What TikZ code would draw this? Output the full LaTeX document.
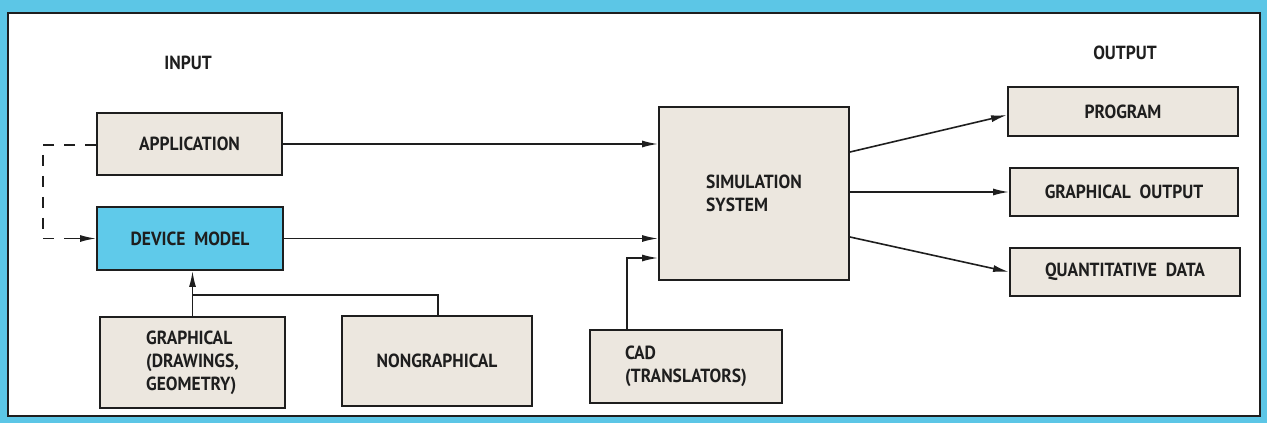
\documentclass[tikz,border=0pt]{standalone}
\usepackage{fontspec}
\setmainfont{PT Sans}[FakeStretch=0.92]
\usetikzlibrary{arrows.meta}
\definecolor{bgcyan}{HTML}{5CC6E6}
\definecolor{boxfill}{HTML}{ECE7DF}
\definecolor{devfill}{HTML}{5FCAEA}
\definecolor{ink}{HTML}{1E1E1E}
\tikzset{
  blk/.style={draw=ink, line width=1.9pt, fill=boxfill, inner sep=0pt, anchor=center,
    font=\fontsize{19}{23}\selectfont\bfseries, text=ink, align=left},
  lbl/.style={font=\fontsize{19}{23}\selectfont\bfseries, text=ink},
  conn/.style={draw=ink, line width=1.6pt},
  arr/.style={conn, -{Latex[length=16pt,width=7pt]}},
  dsh/.style={draw=ink, line width=1.6pt, dash pattern=on 11pt off 10pt}
}
\begin{document}
\begin{tikzpicture}[x=1pt,y=-1pt]
\fill[bgcyan] (0,0) rectangle (1267,423);
\draw[ink, line width=2pt, fill=white] (8,13) rectangle (1260,416);
\useasboundingbox (0,0) rectangle (1267,423);

\node[lbl] (inlbl) at (188,63) {INPUT};
\node[lbl] (outlbl) at (1125,53) {OUTPUT};

\node[blk, minimum width=185pt, minimum height=62pt] (app) at (189.5,144) {APPLICATION};
\node[blk, fill=devfill, minimum width=186pt, minimum height=63pt] (dev) at (190,238.5) {DEVICE\ \ MODEL};
\node[blk, minimum width=185pt, minimum height=91pt] (gra) at (192.5,362.5) {GRAPHICAL\\(DRAWINGS,\\GEOMETRY)};
\node[blk, minimum width=190pt, minimum height=90pt] (non) at (437,361) {NONGRAPHICAL};
\node[blk, minimum width=192pt, minimum height=73pt] (cad) at (686,366.5) {CAD\\(TRANSLATORS)};
\node[blk, minimum width=190pt, minimum height=173pt] (sim) at (754,193.5) {SIMULATION\\SYSTEM};
\node[blk, minimum width=230pt, minimum height=49pt] (prog) at (1123,111.5) {PROGRAM};
\node[blk, minimum width=228pt, minimum height=48pt] (gout) at (1124,192) {GRAPHICAL\ \ OUTPUT};
\node[blk, minimum width=230pt, minimum height=48pt] (qd) at (1125,272) {QUANTITATIVE\ \ DATA};

% inputs to simulation
\draw[arr] (app.east) -- (app.east -| sim.west);
\draw[arr] (dev.east) -- (dev.east -| sim.west);
\coordinate (c1) at (627,258);
\draw[arr] (cad.north -| c1) -- (c1) -- (c1 -| sim.west);

% graphical / nongraphical to device model
\coordinate (j) at (438,295);
\draw[arr] (gra.north) -- (gra.north |- dev.south);
\draw[conn] (non.north -| j) -- (j) -- (j -| gra.north);

% dashed feedback
\coordinate (d1) at (43,145);
\draw[dsh] (app.west |- d1) -- (d1) |- ([xshift=-16pt]dev.west);
\draw[arr] ([xshift=-22pt]dev.west) -- (dev.west);

% outputs
\draw[arr] ([yshift=41.5pt]sim.east) -- ([yshift=-3.5pt]prog.west);
\draw[arr] (sim.east |- gout.west) -- (gout.west);
\draw[arr] ([yshift=-43.5pt]sim.east) -- (qd.west);
\end{tikzpicture}
\end{document}
